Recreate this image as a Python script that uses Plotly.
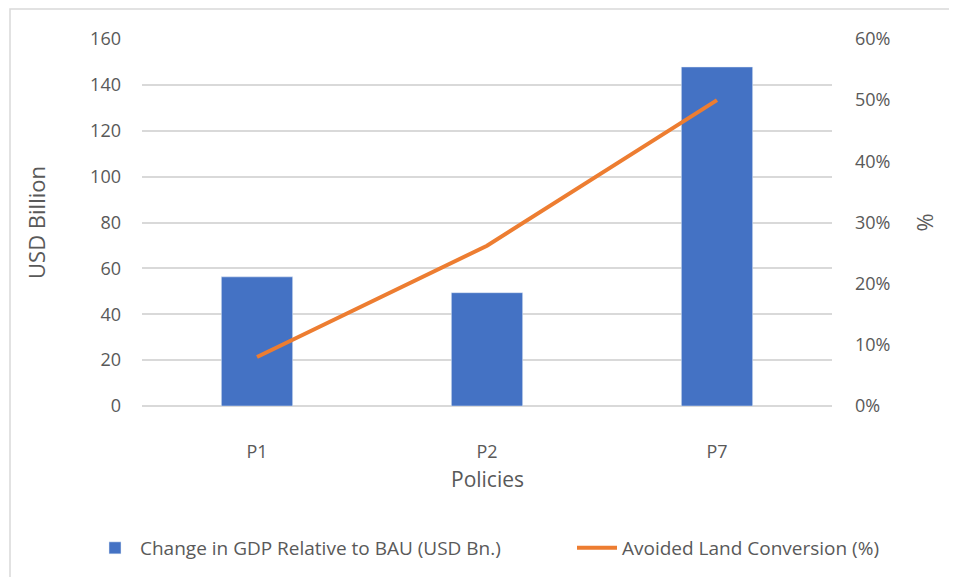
import plotly.graph_objects as go

categories = ["P1", "P2", "P7"]
gdp_change = [56.3, 49.4, 147.8]
avoided_land = [0.08, 0.262, 0.50]
left_ticks = [0, 20, 40, 60, 80, 100, 120, 140, 160]
right_ticks = [0, 0.1, 0.2, 0.3, 0.4, 0.5, 0.6]
right_tick_labels = ["0%", "10%", "20%", "30%", "40%", "50%", "60%"]

FONT = "Open Sans"
GREY = "#595959"

fig = go.Figure()
fig.add_trace(go.Bar(
    x=categories, y=gdp_change, name="Change in GDP Relative to BAU (USD Bn.)",
    marker_color="#4472C4", width=0.31, yaxis="y", legend="legend",
))
fig.add_trace(go.Scatter(
    x=categories, y=avoided_land, name="Avoided Land Conversion (%)",
    mode="lines", line=dict(color="#ED7D31", width=4), yaxis="y2", legend="legend2",
))

# page offset of 8px (body margin) compensated
OFF = 8
W, H = 957, 577
L, R, T, B = 142 - OFF, 832 - OFF, 39 - OFF, 406 - OFF
PH = B - T

leg_common = dict(orientation="h", xref="container", yref="container",
                  xanchor="left", y=1 - (548 - OFF) / H, yanchor="middle",
                  font=dict(size=19, color=GREY), itemwidth=40, bgcolor="rgba(0,0,0,0)")

fig.update_layout(
    width=W, height=H,
    margin=dict(l=L, r=W - R, t=T, b=H - B, autoexpand=False),
    paper_bgcolor="white", plot_bgcolor="white",
    font=dict(family=FONT, color=GREY, size=17),
    showlegend=True,
    legend=dict(x=(90 - OFF) / W, **leg_common),
    legend2=dict(x=(572 - OFF) / W, **leg_common),
    xaxis=dict(
        showgrid=False, showline=False, ticks="", ticklabelstandoff=33,
        tickfont=dict(size=18, color=GREY),
    ),
    yaxis=dict(
        range=[0, 160], tickvals=left_ticks, showgrid=True, gridcolor="#D9D9D9", gridwidth=1.5,
        zeroline=True, zerolinecolor="#D9D9D9", zerolinewidth=1.5, showline=False, ticks="",
        ticklabelstandoff=20, tickfont=dict(size=18, color=GREY),
        title=dict(text="USD Billion", font=dict(size=22, color=GREY), standoff=38),
    ),
    yaxis2=dict(
        range=[0, 0.6], tickvals=right_ticks, ticktext=right_tick_labels,
        overlaying="y", side="right", showgrid=False, zeroline=False, showline=False, ticks="",
        ticklabelstandoff=22, tickfont=dict(size=18, color=GREY),
        title=dict(text="%", font=dict(size=22, color=GREY), standoff=28),
    ),
    annotations=[dict(
        text="Policies", xref="paper", yref="paper", x=0.5, y=-(479 - 406) / PH,
        xanchor="center", yanchor="middle", showarrow=False,
        font=dict(size=21, color=GREY),
    )],
    shapes=[dict(
        type="rect", xref="paper", yref="paper",
        x0=(10 - OFF - L) / (R - L), x1=(W + 20 - L) / (R - L),
        y0=-(H + 20 - B) / PH, y1=1 + (T - (9 - OFF)) / PH,
        line=dict(color="#D9D9D9", width=1.5), layer="below",
    )],
)

fig.write_html("out.html")
